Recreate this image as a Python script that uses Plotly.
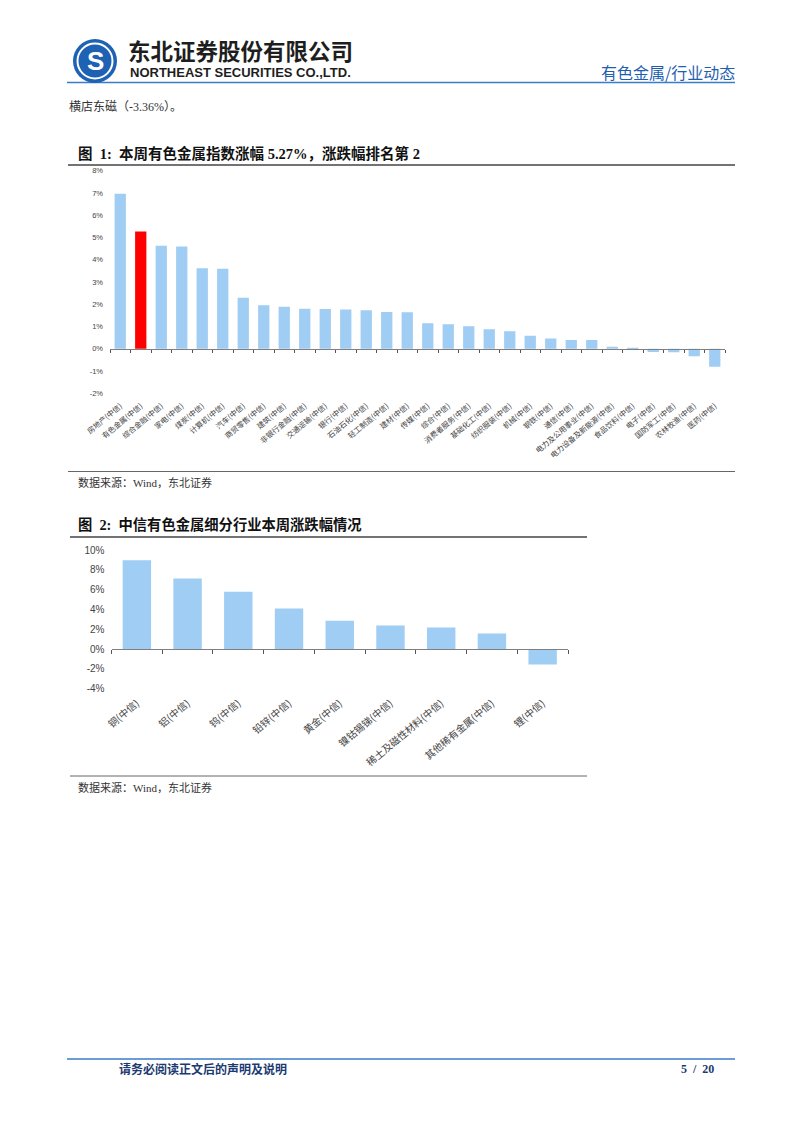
import plotly.graph_objects as go

W, H = 802, 1133

# ---------------- data ----------------
fig1_categories = ["房地产(中信)", "有色金属(中信)", "综合金融(中信)", "家电(中信)", "煤炭(中信)",
                   "计算机(中信)", "汽车(中信)", "商贸零售(中信)", "建筑(中信)", "非银行金融(中信)",
                   "交通运输(中信)", "银行(中信)", "石油石化(中信)", "轻工制造(中信)", "建材(中信)",
                   "传媒(中信)", "综合(中信)", "消费者服务(中信)", "基础化工(中信)", "纺织服装(中信)",
                   "机械(中信)", "钢铁(中信)", "通信(中信)", "电力及公用事业(中信)", "电力设备及新能源(中信)",
                   "食品饮料(中信)", "电子(中信)", "国防军工(中信)", "农林牧渔(中信)", "医药(中信)"]
fig1_values = [6.97, 5.27, 4.63, 4.59, 3.62, 3.59, 2.29, 1.95, 1.89, 1.80,
               1.79, 1.76, 1.73, 1.65, 1.64, 1.15, 1.10, 1.01, 0.88, 0.79,
               0.58, 0.46, 0.39, 0.39, 0.09, 0.04, -0.15, -0.16, -0.34, -0.81]
fig1_highlight = "有色金属(中信)"
fig1_yticks = [-2, -1, 0, 1, 2, 3, 4, 5, 6, 7, 8]
fig1_yticktext = ["-2%", "-1%", "0%", "1%", "2%", "3%", "4%", "5%", "6%", "7%", "8%"]

fig2_categories = ["铜(中信)", "铝(中信)", "钨(中信)", "铅锌(中信)", "黄金(中信)",
                   "镍钴锡锑(中信)", "稀土及磁性材料(中信)", "其他稀有金属(中信)", "锂(中信)"]
fig2_values = [8.97, 7.12, 5.79, 4.10, 2.86, 2.39, 2.18, 1.58, -1.55]
fig2_yticks = [-4, -2, 0, 2, 4, 6, 8, 10]
fig2_yticktext = ["-4%", "-2%", "0%", "2%", "4%", "6%", "8%", "10%"]

# ---------------- helpers ----------------
def px(x):
    return x / W

def py(y):
    return 1 - y / H

BAR = "#9fcdf4"
RED = "#ff0000"
SERIF_CJK = "Liberation Serif, Noto Sans CJK SC"
CJK = "Noto Sans CJK SC"

fig = go.Figure()

# figure 1 bars
colors1 = [RED if c == fig1_highlight else BAR for c in fig1_categories]
fig.add_trace(go.Bar(x=fig1_categories, y=fig1_values, marker=dict(color=colors1, line=dict(width=0)),
                     width=0.55, xaxis="x", yaxis="y", showlegend=False, hoverinfo="x+y"))
fig.add_trace(go.Scatter(x=fig1_categories, y=[0] * len(fig1_categories), xaxis="x3", yaxis="y",
                         mode="markers", marker=dict(opacity=0), showlegend=False, hoverinfo="skip"))

# figure 2 bars
fig.add_trace(go.Bar(x=fig2_categories, y=fig2_values, marker=dict(color=BAR, line=dict(width=0)),
                     width=0.56, xaxis="x2", yaxis="y2", showlegend=False, hoverinfo="x+y"))
fig.add_trace(go.Scatter(x=fig2_categories, y=[0] * len(fig2_categories), xaxis="x4", yaxis="y2",
                         mode="markers", marker=dict(opacity=0), showlegend=False, hoverinfo="skip"))

# axis domains
x1dom = [px(110), px(725)]
y1dom = [py(393.3), py(170.7)]
y1rng = [fig1_yticks[0], fig1_yticks[-1]]
x2dom = [px(111.5), px(568)]
y2dom = [py(688.7), py(550)]
y2rng = [fig2_yticks[0], fig2_yticks[-1]]

def zero_pos(dom, rng):
    return dom[0] + (0 - rng[0]) / (rng[1] - rng[0]) * (dom[1] - dom[0])

n1 = len(fig1_categories)
n2 = len(fig2_categories)

fig.update_layout(
    width=W, height=H, autosize=False, margin=dict(l=0, r=0, t=0, b=0, pad=0, autoexpand=False),
    paper_bgcolor="white", plot_bgcolor="rgba(0,0,0,0)",
    bargap=0.45,
    xaxis=dict(domain=x1dom, anchor="y", type="category", categoryorder="array",
               categoryarray=fig1_categories, range=[-0.5, n1 - 0.5], automargin=False,
               showline=False, ticks="", showgrid=False, zeroline=False,
               tickangle=-40, tickfont=dict(family=CJK, size=7.5, color="#444"),
               ticklabelstandoff=6),
    xaxis3=dict(overlaying="x", anchor="free", position=zero_pos(y1dom, y1rng), type="category",
                categoryorder="array", categoryarray=fig1_categories, range=[-0.5, n1 - 0.5],
                automargin=False,
                showline=True, linecolor="#7f7f7f", linewidth=1, ticks="outside", tickson="boundaries",
                ticklen=3, tickcolor="#555", tickwidth=1, showticklabels=False, showgrid=False,
                zeroline=False),
    yaxis=dict(domain=y1dom, anchor="x", range=y1rng, tickvals=fig1_yticks, ticktext=fig1_yticktext,
               automargin=False,
               showgrid=False, zeroline=False, showline=False, ticks="",
               tickfont=dict(family="Liberation Sans, Arial", size=7.5, color="#444"),
               ticklabelstandoff=6),
    xaxis2=dict(domain=x2dom, anchor="y2", type="category", categoryorder="array",
                categoryarray=fig2_categories, range=[-0.5, n2 - 0.5], automargin=False,
                showline=False, ticks="", showgrid=False, zeroline=False,
                tickangle=-40, tickfont=dict(family=CJK, size=10, color="#444"),
                ticklabelstandoff=6),
    xaxis4=dict(overlaying="x2", anchor="free", position=zero_pos(y2dom, y2rng), type="category",
                categoryorder="array", categoryarray=fig2_categories, range=[-0.5, n2 - 0.5],
                automargin=False,
                showline=True, linecolor="#7f7f7f", linewidth=1, ticks="outside", tickson="boundaries",
                ticklen=4, tickcolor="#555", tickwidth=1, showticklabels=False, showgrid=False,
                zeroline=False),
    yaxis2=dict(domain=y2dom, anchor="x2", range=y2rng, tickvals=fig2_yticks, ticktext=fig2_yticktext,
                automargin=False,
                showgrid=False, zeroline=False, showline=False, ticks="",
                tickfont=dict(family="Liberation Sans, Arial", size=10, color="#444"),
                ticklabelstandoff=6),
)

# ---------------- page decoration ----------------
shapes = []
def hline(y, x0, x1, color, width):
    shapes.append(dict(type="line", xref="paper", yref="paper", x0=px(x0), x1=px(x1), y0=py(y), y1=py(y),
                       line=dict(color=color, width=width)))

BLUE = "#3b7bc8"
hline(82.5, 67, 735, BLUE, 1.5)
hline(165, 68, 735, "#444", 1.5)
hline(471.5, 68, 735, "#666", 1)
hline(537, 70, 587, "#444", 1.5)
hline(776, 70, 587, "#666", 1)
hline(1059, 67, 735, BLUE, 1.5)

# logo
def circle(cx, cy, r, fill, line_color=None, lw=0):
    shapes.append(dict(type="circle", xref="paper", yref="paper",
                       x0=px(cx - r), x1=px(cx + r), y0=py(cy + r), y1=py(cy - r),
                       fillcolor=fill, line=dict(color=line_color or fill, width=lw)))
circle(95, 61, 22, "#1d62b3")
circle(95, 61, 17.5, "rgba(0,0,0,0)", "white", 2)

fig.update_layout(shapes=shapes)

anns = []
def text(x, y, s, size, color="#222", family=SERIF_CJK, xanchor="left"):
    anns.append(dict(xref="paper", yref="paper", x=px(x), y=py(y), text=s, showarrow=False,
                     xanchor=xanchor, yanchor="middle", font=dict(family=family, size=size, color=color)))

text(95, 61.5, "<b>S</b>", 26, "white", "Liberation Sans", "center")
text(126, 50.5, "<b>东北证券股份有限公司</b>", 22.5, "#1e1e1e", CJK)
text(128, 72.5, "<b>NORTHEAST SECURITIES CO.,LTD.</b>", 13, "#1e1e1e", "Liberation Sans")
text(737, 72, "有色金属/行业动态", 16, "#1f5fae", CJK, "right")
text(67, 106, "横店东磁（-3.36%）。", 12, "#333")
text(76, 153, "<b>图  1:  本周有色金属指数涨幅 5.27%，涨跌幅排名第 2</b>", 14.5, "#111")
text(76, 483, "数据来源：Wind，东北证券", 11, "#333")
text(76, 525, "<b>图  2:  中信有色金属细分行业本周涨跌幅情况</b>", 14.3, "#111")
text(76, 787, "数据来源：Wind，东北证券", 11, "#333")
text(117, 1069, "<b>请务必阅读正文后的声明及说明</b>", 12, "#1c3a72")
text(716, 1069, "<b>5  /  20</b>", 12, "#1c3a72", "Liberation Serif", "right")

fig.update_layout(annotations=anns)

fig.write_html("out.html")
